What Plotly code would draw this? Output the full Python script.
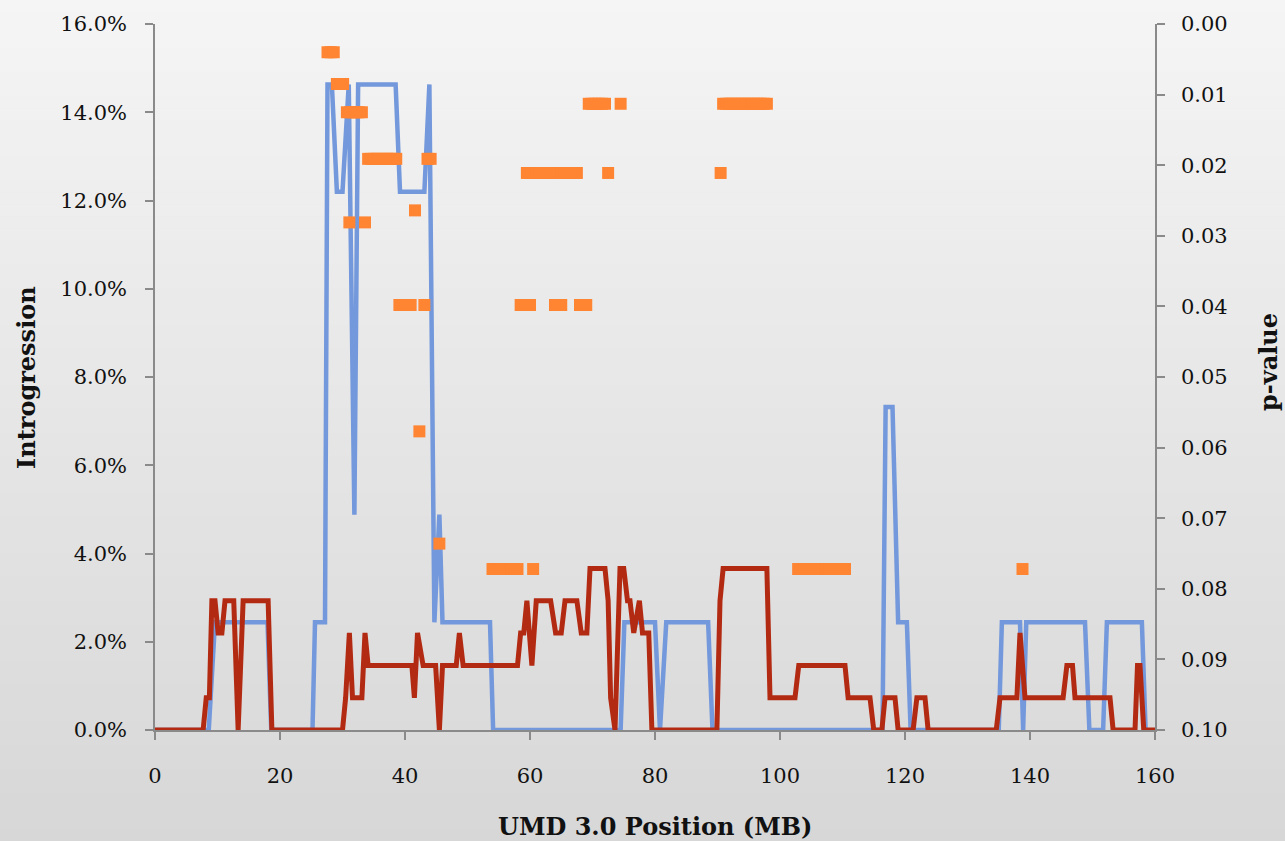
import plotly.graph_objects as go

# ---- data ----
blue_pos = [0, 8.6, 9.6, 18.0, 18.6, 25.2, 25.6, 27.2, 27.6, 28.3, 29.1, 30.0, 31.0, 31.9, 32.5,
            38.5, 39.2, 43.1, 43.9, 44.7, 45.5, 46.0, 53.6, 54.1, 74.5, 75.1, 80.0, 80.8, 81.8,
            88.5, 89.2, 116.4, 116.9, 118.0, 118.9, 120.3, 120.9, 135.0, 135.5, 138.4, 138.9,
            139.4, 148.8, 149.5, 151.7, 152.3, 157.9, 158.5]
blue_pct = [0, 0, 2.44, 2.44, 0, 0, 2.44, 2.44, 14.63, 14.63, 12.2, 12.2, 14.63, 4.88, 14.63,
            14.63, 12.2, 12.2, 14.63, 2.44, 4.88, 2.44, 2.44, 0, 0, 2.44, 2.44, 0, 2.44,
            2.44, 0, 0, 7.32, 7.32, 2.44, 2.44, 0, 0, 2.44, 2.44, 0,
            2.44, 2.44, 0, 0, 2.44, 2.44, 0]

red_pos = [0, 7.7, 8.2, 8.7, 9.1, 9.6, 10.1, 10.7, 11.2, 12.6, 13.3, 14.1, 18.1, 18.7,
           30.0, 30.5, 31.1, 31.6, 33.1, 33.6, 34.1, 41.1, 41.5, 42.0, 42.9, 44.9, 45.5, 46.0,
           48.2, 48.7, 49.3, 58.0, 58.5, 59.0, 59.5, 60.3, 61.0, 63.3, 64.1, 65.0, 65.6, 67.5,
           68.2, 69.1, 69.6, 72.0, 72.5, 72.9, 73.6, 74.4, 75.0, 75.6, 76.0, 76.6, 77.5, 78.0,
           79.0, 79.5, 89.9, 90.4, 90.9, 97.9, 98.4, 102.4, 103.0, 110.4, 110.9, 114.4, 115.0,
           116.3, 116.8, 118.4, 118.9, 121.3, 121.9, 123.2, 123.7, 134.6, 135.2, 137.9, 138.4,
           139.2, 145.3, 145.9, 146.8, 147.2, 152.8, 153.3, 156.8, 157.2, 157.6, 158.2, 160.0]
red_pct = [0, 0, 0.73, 0.73, 2.93, 2.93, 2.2, 2.2, 2.93, 2.93, 0, 2.93, 2.93, 0,
           0, 0.73, 2.2, 0.73, 0.73, 2.2, 1.46, 1.46, 0.73, 2.2, 1.46, 1.46, 0, 1.46,
           1.46, 2.2, 1.46, 1.46, 2.2, 2.2, 2.93, 1.46, 2.93, 2.93, 2.2, 2.2, 2.93, 2.93,
           2.2, 2.2, 3.66, 3.66, 2.93, 0.73, 0, 3.66, 3.66, 2.93, 2.93, 2.2, 2.93, 2.2,
           2.2, 0, 0, 2.93, 3.66, 3.66, 0.73, 0.73, 1.46, 1.46, 0.73, 0.73, 0,
           0, 0.73, 0.73, 0, 0, 0.73, 0.73, 0, 0, 0.73, 0.73, 2.2,
           0.73, 0.73, 1.46, 1.46, 0.73, 0.73, 0, 0, 1.46, 1.46, 0, 0]

orange_pos = [27.6, 28.1, 28.6,
              29.1, 29.6, 30.1,
              30.7, 31.2, 31.7, 32.2, 32.6, 33.1,
              34.1, 34.6, 35.1, 35.6, 36.1, 36.6, 37.1, 37.6, 38.1, 38.6, 43.6, 44.1,
              41.6,
              31.1, 33.6,
              39.1, 39.6, 40.1, 40.5, 40.9, 43.1,
              42.3,
              45.5,
              54.0, 54.5, 55.0, 55.5, 56.0, 56.5, 57.0, 57.5, 58.0, 60.5,
              69.4, 69.9, 70.4, 71.0, 71.5, 72.0, 74.5,
              90.9, 91.4, 91.9, 92.4, 92.9, 93.4, 93.9, 94.4, 94.9, 95.4, 95.9, 96.4, 96.9, 97.4, 97.9,
              59.5, 60.0, 60.5, 61.0, 61.5, 62.0, 62.5, 63.0, 63.5, 65.0, 65.5, 66.0, 66.5, 67.0, 67.5,
              72.5, 90.5,
              58.5, 59.0, 59.5, 60.0, 64.0, 64.5, 65.0, 68.0, 68.5, 69.0,
              102.9, 103.4, 103.9, 104.4, 104.9, 105.4, 105.9, 106.4, 106.9, 107.4, 107.9, 108.4,
              108.9, 109.4, 109.9, 110.4,
              138.8]
orange_p = [0.0040, 0.0040, 0.0040,
            0.0085, 0.0085, 0.0085,
            0.0125, 0.0125, 0.0125, 0.0125, 0.0125, 0.0125,
            0.0191, 0.0191, 0.0191, 0.0191, 0.0191, 0.0191, 0.0191, 0.0191, 0.0191, 0.0191, 0.0191, 0.0191,
            0.0264,
            0.0281, 0.0281,
            0.0398, 0.0398, 0.0398, 0.0398, 0.0398, 0.0398,
            0.0577,
            0.0736,
            0.0772, 0.0772, 0.0772, 0.0772, 0.0772, 0.0772, 0.0772, 0.0772, 0.0772, 0.0772,
            0.0113, 0.0113, 0.0113, 0.0113, 0.0113, 0.0113, 0.0113,
            0.0113, 0.0113, 0.0113, 0.0113, 0.0113, 0.0113, 0.0113, 0.0113, 0.0113, 0.0113, 0.0113,
            0.0113, 0.0113, 0.0113, 0.0113,
            0.0211, 0.0211, 0.0211, 0.0211, 0.0211, 0.0211, 0.0211, 0.0211, 0.0211, 0.0211, 0.0211,
            0.0211, 0.0211, 0.0211, 0.0211,
            0.0211, 0.0211,
            0.0398, 0.0398, 0.0398, 0.0398, 0.0398, 0.0398, 0.0398, 0.0398, 0.0398, 0.0398,
            0.0772, 0.0772, 0.0772, 0.0772, 0.0772, 0.0772, 0.0772, 0.0772, 0.0772, 0.0772, 0.0772,
            0.0772, 0.0772, 0.0772, 0.0772, 0.0772,
            0.0772]

x_title = "UMD 3.0 Position (MB)"
y_title = "Introgression"
y2_title = "p-value"

# ---- figure ----
W, H = 1285, 841
L, R, T, B = 155, 130, 24, 111
PH = H - T - B

FONT = "DejaVu Serif"
AX = "#8a8a8a"

fig = go.Figure()
fig.add_trace(go.Scatter(x=blue_pos, y=[v / 100 for v in blue_pct], mode="lines",
                         line=dict(color="#7398DB", width=4.5), showlegend=False, hoverinfo="skip"))
fig.add_trace(go.Scatter(x=red_pos, y=[v / 100 for v in red_pct], mode="lines",
                         line=dict(color="#B32A12", width=5), showlegend=False, hoverinfo="skip"))
fig.add_trace(go.Scatter(x=orange_pos, y=orange_p, mode="markers", yaxis="y2",
                         marker=dict(symbol="square", size=12, color="#FF8533",
                                     line=dict(width=0)),
                         showlegend=False, hoverinfo="skip"))

# background vertical gradient
top_c = (245, 245, 245)
bot_c = (215, 215, 215)
N = 70
shapes = []
for i in range(N):
    p0 = i * H / N
    p1 = (i + 1) * H / N + 0.5
    t = (i + 0.5) / N
    c = tuple(round(top_c[k] + (bot_c[k] - top_c[k]) * t) for k in range(3))
    shapes.append(dict(type="rect", xref="paper", yref="paper",
                       x0=-0.3, x1=1.3,
                       y0=(H - B - p1) / PH, y1=(H - B - p0) / PH,
                       fillcolor="rgb(%d,%d,%d)" % c, line=dict(width=0), layer="below"))

fig.update_layout(
    width=W, height=H,
    margin=dict(l=L, r=R, t=T, b=B),
    paper_bgcolor="rgb(230,230,230)",
    plot_bgcolor="rgba(0,0,0,0)",
    font=dict(family=FONT, size=21, color="#111111"),
    shapes=shapes,
    xaxis=dict(range=[0, 160], tickmode="linear", tick0=0, dtick=20,
               showgrid=False, zeroline=False, showline=True, linecolor=AX, linewidth=1.5,
               ticks="outside", ticklen=8, tickwidth=1.5, tickcolor=AX,
               ticklabelstandoff=18),
    yaxis=dict(range=[0, 0.16], tickmode="linear", tick0=0, dtick=0.02, tickformat=".1%",
               showgrid=False, zeroline=False, showline=True, linecolor=AX, linewidth=1.5,
               ticks="outside", ticklen=8, tickwidth=1.5, tickcolor=AX,
               ticklabelstandoff=14),
    yaxis2=dict(range=[0.1, 0], overlaying="y", side="right", tickmode="linear", tick0=0,
                dtick=0.01, tickformat=".2f",
                showgrid=False, zeroline=False, showline=True, linecolor=AX, linewidth=1.5,
                ticks="outside", ticklen=8, tickwidth=1.5, tickcolor=AX,
                ticklabelstandoff=12),
    annotations=[
        dict(text="<b>%s</b>" % x_title, xref="paper", yref="paper",
             x=(655 - L) / 1000, y=(H - B - 826) / PH, showarrow=False,
             font=dict(size=24, family=FONT, color="#111111"), xanchor="center", yanchor="middle"),
        dict(text="<b>%s</b>" % y_title, xref="paper", yref="paper",
             x=(26 - L) / 1000, y=(H - B - 378) / PH, showarrow=False, textangle=-90,
             font=dict(size=24, family=FONT, color="#111111"), xanchor="center", yanchor="middle"),
        dict(text="<b>%s</b>" % y2_title, xref="paper", yref="paper",
             x=(1268 - L) / 1000, y=(H - B - 362) / PH, showarrow=False, textangle=-90,
             font=dict(size=24, family=FONT, color="#111111"), xanchor="center", yanchor="middle"),
    ],
)

fig.write_html("out.html", config={"displayModeBar": False},
               post_script="document.body.style.margin='0';"
                           "document.body.style.padding='0';"
                           "document.documentElement.style.overflow='hidden';")
